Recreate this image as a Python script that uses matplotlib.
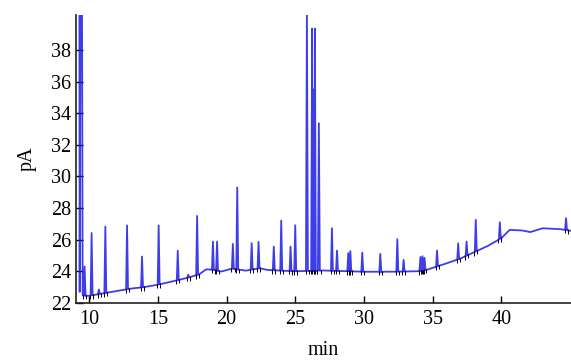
import numpy as np
import matplotlib.pyplot as plt

plt.rcParams['font.family'] = ['Liberation Serif', 'DejaVu Serif']

# baseline knots (min, pA)
base_t = [9.25, 9.6, 10.0, 11.0, 12.0, 13.0, 14.0, 15.0, 16.0, 17.0, 18.0, 18.5,
          19.0, 19.6, 20.4, 21.4, 22.4, 23.0, 25.0, 27.0, 30.0, 32.0, 34.0, 34.6,
          35.0, 36.0, 37.0, 38.0, 39.0, 40.0, 40.6, 41.5, 42.1, 43.0, 44.3, 45.1]
base_y = [22.6, 22.45, 22.45, 22.6, 22.75, 22.9, 23.0, 23.15, 23.35, 23.55, 23.8, 24.12,
          24.1, 23.98, 24.17, 24.04, 24.19, 24.08, 24.0, 24.05, 23.97, 23.97, 24.0, 24.1,
          24.22, 24.5, 24.8, 25.2, 25.6, 26.1, 26.62, 26.58, 26.48, 26.72, 26.66, 26.55]

# solvent front (runs off scale)
solv_t = [9.26, 9.30, 9.42, 9.52]
solv_y = [60.0, 22.7, 60.0, 22.5]

# peak retention times and apex heights
peak_t = [9.66, 10.17, 10.7, 11.17, 12.75, 13.84, 15.05, 16.44, 17.2, 17.85,
          19.0, 19.3, 20.45, 20.77, 21.82, 22.32, 23.43, 23.97, 24.65, 24.99,
          25.84, 26.22, 26.33, 26.42, 26.71, 27.66, 28.03, 28.85, 29.0, 29.87,
          31.18, 32.42, 32.88, 34.1, 34.25, 34.4, 35.31, 36.85, 37.46, 38.13,
          39.88, 44.7]
peak_y = [24.3, 26.42, 22.85, 26.83, 26.9, 24.93, 26.9, 25.3, 23.78, 27.5,
          25.88, 25.88, 25.73, 29.3, 25.78, 25.86, 25.56, 27.2, 25.56, 26.91,
          40.5, 39.35, 35.5, 39.35, 33.36, 26.72, 25.31, 25.15, 25.28, 25.18,
          25.1, 26.03, 24.72, 24.9, 24.95, 24.85, 25.31, 25.77, 25.88, 27.25,
          27.1, 27.36]

w = 0.07
pt = np.array(peak_t)
bt = np.array(base_t)
by = np.array(base_y)

keep = np.ones(len(bt), bool)
for t in pt:
    keep &= np.abs(bt - t) > w
keep &= bt > 9.55

xs = list(solv_t) + list(bt[keep])
ys = list(solv_y) + list(by[keep])
for t, h in zip(peak_t, peak_y):
    for tt in (t - w, t + w):
        xs.append(tt)
        ys.append(np.interp(tt, bt, by))
    xs.append(t)
    ys.append(h)
order = np.argsort(xs, kind='stable')
xs = np.array(xs)[order]
ys = np.array(ys)[order]

fig = plt.figure(figsize=(5.71, 3.61), dpi=100)
ax = fig.add_axes([0.133, 0.161, 0.867, 0.797])

# integration baselines and start/end markers
for t in peak_t:
    a, b = t - 0.1, t + 0.12
    ya, yb = np.interp(a, bt, by), np.interp(b, bt, by)
    ax.plot([a, b], [ya, yb], color='#e040a0', lw=1.0, zorder=1)
    ax.vlines([a, b], [ya - 0.22, yb - 0.22], [ya + 0.06, yb + 0.06],
              color='black', lw=0.7, zorder=3)

ax.plot(xs, ys, color='#1c1ce6', lw=1.3, alpha=0.85, zorder=2)

ax.set_xlim(9.03, 45.06)
ax.set_ylim(22, 40.2)
ax.set_xticks([10, 15, 20, 25, 30, 35, 40])
ax.set_yticks(np.arange(22, 39, 2))
ax.tick_params(direction='in', length=5, width=1.0, labelsize=14.5)
ax.tick_params(axis='x', pad=5)
for s in ('top', 'right'):
    ax.spines[s].set_visible(False)
for s in ('left', 'bottom'):
    ax.spines[s].set_linewidth(1.2)
    ax.spines[s].set_color('#222222')
ax.set_xlabel('min', fontsize=14.5, labelpad=9)
ax.set_ylabel('pA', fontsize=14.5, labelpad=10)

fig.savefig('out.png', dpi=100)
